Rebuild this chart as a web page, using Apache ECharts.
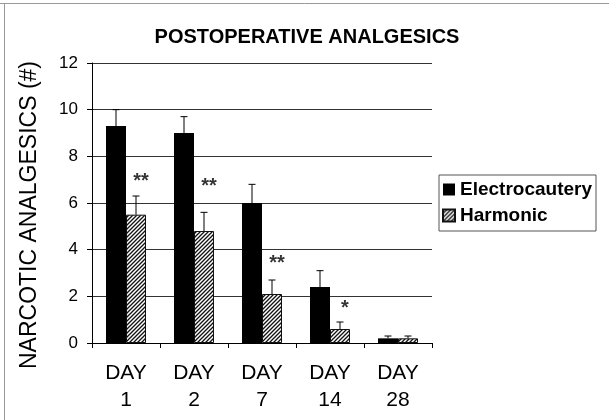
<!DOCTYPE html>
<html><head><meta charset="utf-8">
<script src="https://cdn.jsdelivr.net/npm/echarts@6/dist/echarts.min.js"></script>
<style>html,body{margin:0;padding:0;background:#fff}#c{width:609px;height:420px}</style>
</head><body><div id="c"></div>
<script>
const categories = ['DAY\n1', 'DAY\n2', 'DAY\n7', 'DAY\n14', 'DAY\n28'];
const electrocautery = [9.3, 9.0, 6.0, 2.4, 0.2];
const electrocauteryErr = [0.7, 0.7, 0.8, 0.7, 0.1];
const harmonic = [5.5, 4.8, 2.1, 0.6, 0.2];
const harmonicErr = [0.8, 0.8, 0.6, 0.3, 0.1];
const significance = ['**', '**', '**', '*', ''];
const sigLevel = [7.0, 6.8, 3.5, 1.55, null];
const yTicks = [0, 2, 4, 6, 8, 10, 12];
const yTitle = 'NARCOTIC ANALGESICS (#)';

const FONT = 'Liberation Sans, Arial, sans-serif';
const BAR_W = 20;

function hatch() {
  const c = document.createElement('canvas');
  c.width = 4; c.height = 4;
  const g = c.getContext('2d');
  g.fillStyle = '#fff'; g.fillRect(0, 0, 4, 4);
  g.strokeStyle = '#111'; g.lineWidth = 1.3;
  g.beginPath();
  g.moveTo(-1, 5); g.lineTo(5, -1);
  g.moveTo(-1, 1); g.lineTo(1, -1);
  g.moveTo(3, 5); g.lineTo(5, 3);
  g.stroke();
  return c;
}
const hatchFill = { image: hatch(), repeat: 'repeat' };

function errSeries(vals, errs, offset) {
  return {
    type: 'custom',
    data: vals.map((v, i) => [i, v, errs[i]]),
    z: 5,
    silent: true,
    renderItem: function (params, api) {
      const i = api.value(0), v = api.value(1), e = api.value(2);
      const base = api.coord([i, v]);
      const top = api.coord([i, v + e]);
      const x = base[0] + offset;
      return {
        type: 'group',
        children: [
          { type: 'line', shape: { x1: x, y1: base[1], x2: x, y2: top[1] }, style: { stroke: '#000', lineWidth: 1 } },
          { type: 'line', shape: { x1: x - 3.5, y1: top[1], x2: x + 3.5, y2: top[1] }, style: { stroke: '#000', lineWidth: 1 } }
        ]
      };
    }
  };
}

const chart = echarts.init(document.getElementById('c'), null, { renderer: 'canvas' });
chart.setOption({
  animation: false,
  backgroundColor: '#fff',
  title: {
    text: 'POSTOPERATIVE ANALGESICS',
    left: 302, top: 22, textAlign: 'center',
    textStyle: { fontFamily: FONT, fontSize: 20, fontWeight: 'bold', color: '#000' }
  },
  legend: {
    orient: 'vertical',
    left: 439, top: 175,
    padding: [5, 4, 6, 3],
    itemWidth: 12, itemHeight: 12, itemGap: 7,
    borderColor: '#555', borderWidth: 1,
    icon: 'rect',
    data: ['Electrocautery', 'Harmonic'],
    textStyle: { fontFamily: FONT, fontSize: 19, fontWeight: 'bold', color: '#000' }
  },
  grid: { left: 92, right: 177, top: 63, bottom: 77, containLabel: false },
  xAxis: {
    type: 'category',
    data: categories,
    axisLine: { lineStyle: { color: '#000', width: 1 } },
    axisTick: { show: true, length: 5, lineStyle: { color: '#000' } },
    axisLabel: { fontFamily: FONT, fontSize: 21, color: '#000', lineHeight: 27, margin: 17 }
  },
  yAxis: {
    type: 'value',
    min: 0, max: 12, interval: 2,
    axisLine: { show: true, lineStyle: { color: '#000', width: 1 } },
    axisTick: { show: true, length: 5, lineStyle: { color: '#000' } },
    axisLabel: { fontFamily: FONT, fontSize: 17, color: '#000', margin: 14,
      formatter: v => yTicks.indexOf(v) >= 0 ? String(v) : '' },
    splitLine: { show: true, lineStyle: { color: '#333', width: 1 } }
  },
  series: [
    {
      name: 'Electrocautery', type: 'bar', data: electrocautery,
      barWidth: BAR_W, barGap: '0%',
      itemStyle: { color: '#000', borderColor: '#000', borderWidth: 0 }
    },
    {
      name: 'Harmonic', type: 'bar', data: harmonic,
      barWidth: BAR_W, barGap: '0%',
      itemStyle: { color: hatchFill, borderColor: '#111', borderWidth: 1 }
    },
    errSeries(electrocautery, electrocauteryErr, -BAR_W / 2),
    errSeries(harmonic, harmonicErr, BAR_W / 2),
    {
      type: 'scatter',
      data: sigLevel.map((v, i) => [i, v]),
      symbolSize: 0,
      silent: true,
      label: {
        show: true, position: 'inside', offset: [15, 2],
        formatter: p => significance[p.dataIndex],
        fontFamily: FONT, fontSize: 20, fontWeight: 'bold', color: '#000'
      }
    }
  ],
  graphic: [
    { type: 'line', shape: { x1: 0, y1: 3.5, x2: 609, y2: 3.5 }, style: { stroke: '#999', lineWidth: 1 } },
    { type: 'line', shape: { x1: 4.5, y1: 3, x2: 4.5, y2: 420 }, style: { stroke: '#999', lineWidth: 1 } },
    {
      type: 'text', x: 30, y: 215, rotation: Math.PI / 2,
      style: { text: yTitle, fontFamily: FONT, fontSize: 23, fill: '#000',
        align: 'center', verticalAlign: 'middle' }
    }
  ]
});
</script>
</body></html>
